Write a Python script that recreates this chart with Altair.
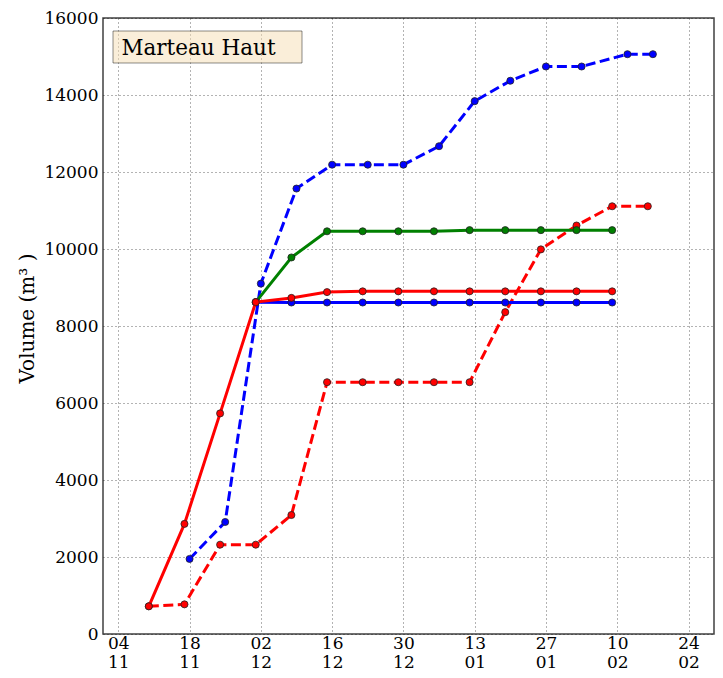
import altair as alt
import pandas as pd

SITE_LABEL = "Marteau Haut"
Y_TITLE = "Volume (m³ )"

# Weekly surveys (solid series) and the two dashed series
red_solid_dates = ["2011-11-10", "2011-11-17", "2011-11-24", "2011-12-01", "2011-12-08",
                   "2011-12-15", "2011-12-22", "2011-12-29", "2012-01-05", "2012-01-12",
                   "2012-01-19", "2012-01-26", "2012-02-02", "2012-02-09"]
red_solid_values = [720, 2860, 5730, 8620, 8730, 8880, 8900, 8900, 8900, 8900,
                    8900, 8900, 8900, 8900]

blue_solid_dates = ["2011-12-01", "2011-12-08", "2011-12-15", "2011-12-22", "2011-12-29",
                    "2012-01-05", "2012-01-12", "2012-01-19", "2012-01-26", "2012-02-02",
                    "2012-02-09"]
blue_solid_values = [8620, 8610, 8610, 8610, 8610, 8610, 8610, 8610, 8610, 8610, 8610]

green_dates = ["2011-12-01", "2011-12-08", "2011-12-15", "2011-12-22", "2011-12-29",
               "2012-01-05", "2012-01-12", "2012-01-19", "2012-01-26", "2012-02-02",
               "2012-02-09"]
green_values = [8620, 9780, 10460, 10460, 10460, 10460, 10490, 10490, 10490, 10490, 10490]

blue_dashed_dates = ["2011-11-18", "2011-11-25", "2011-12-02", "2011-12-09", "2011-12-16",
                     "2011-12-23", "2011-12-30", "2012-01-06", "2012-01-13", "2012-01-20",
                     "2012-01-27", "2012-02-03", "2012-02-12", "2012-02-17"]
blue_dashed_values = [1950, 2910, 9100, 11570, 12190, 12190, 12190, 12670, 13840, 14370,
                      14740, 14740, 15060, 15060]

red_dashed_dates = ["2011-11-10", "2011-11-17", "2011-11-24", "2011-12-01", "2011-12-08",
                    "2011-12-15", "2011-12-22", "2011-12-29", "2012-01-05", "2012-01-12",
                    "2012-01-19", "2012-01-26", "2012-02-02", "2012-02-09", "2012-02-16"]
red_dashed_values = [720, 770, 2320, 2320, 3090, 6540, 6540, 6540, 6540, 6540,
                     8360, 9990, 10610, 11110, 11110]

x_tick_dates = [(2011, 11, 4), (2011, 11, 18), (2011, 12, 2), (2011, 12, 16), (2011, 12, 30),
                (2012, 1, 13), (2012, 1, 27), (2012, 2, 10), (2012, 2, 24)]
y_ticks = [0, 2000, 4000, 6000, 8000, 10000, 12000, 14000, 16000]

FONT = "DejaVu Serif"


def dt(y, m, d):
    return alt.DateTime(year=y, month=m, date=d, utc=True)


x_enc = alt.X(
    "date:T",
    scale=alt.Scale(type="utc", domain=[dt(2011, 11, 1), dt(2012, 2, 29)]),
    axis=alt.Axis(
        values=[dt(*t) for t in x_tick_dates],
        labelExpr="[utcFormat(datum.value, '%d'), utcFormat(datum.value, '%m')]",
        title=None, grid=True, ticks=False, domain=False,
        labelFont=FONT, labelFontSize=17, labelLineHeight=19, labelPadding=1,
        labelColor="black", labelAngle=0, labelOverlap=False, labelFlush=False,
    ),
)
y_enc = alt.Y(
    "value:Q",
    scale=alt.Scale(domain=[0, 16000], nice=False),
    axis=alt.Axis(
        values=y_ticks, format="d", grid=True, ticks=False, domain=False,
        labelFont=FONT, labelFontSize=17, labelPadding=5, labelColor="black",
        title=Y_TITLE, titleFont=FONT, titleFontSize=20, titleFontWeight="normal",
        titleColor="black", titleX=-70, titleY=300, titleAngle=270,
        titleAlign="center", titleBaseline="alphabetic",
    ),
)

series = [
    (blue_dashed_dates, blue_dashed_values, "#0000ff", True),
    (red_dashed_dates, red_dashed_values, "#ff0000", True),
    (green_dates, green_values, "#008000", False),
    (blue_solid_dates, blue_solid_values, "#0000ff", False),
    (red_solid_dates, red_solid_values, "#ff0000", False),
]

layers = []
for dates, values, color, dashed in series:
    df = pd.DataFrame({"date": dates, "value": values})
    base = alt.Chart(df).encode(x=x_enc, y=y_enc)
    line_kw = dict(color=color, strokeWidth=3)
    if dashed:
        line_kw["strokeDash"] = [10, 4.5]
        line_kw["strokeCap"] = "butt"
    layers.append(base.mark_line(**line_kw))
    layers.append(base.mark_circle(size=50, color=color, opacity=1,
                                   stroke="#222222", strokeWidth=0.8))

label_df = pd.DataFrame({"label": [SITE_LABEL]})
box = alt.Chart(label_df).mark_rect(
    fill="#f5deb3", fillOpacity=0.5, stroke="black", strokeOpacity=0.45, strokeWidth=1
).encode(x=alt.value(10), x2=alt.value(199), y=alt.value(13), y2=alt.value(45))
txt = alt.Chart(label_df).mark_text(
    align="left", baseline="alphabetic", font=FONT, fontSize=21.5, color="black"
).encode(x=alt.value(18.5), y=alt.value(37), text="label:N")

chart = alt.layer(*layers, box, txt).properties(
    width=611, height=616,
    autosize=alt.AutoSizeParams(type="none"),
    padding={"left": 95, "top": 10, "right": 1, "bottom": 36},
).configure_view(
    stroke="#404040", strokeWidth=1.5
).configure_axis(
    gridColor="black", gridDash=[1, 3], gridOpacity=0.75, gridWidth=0.8
)

chart.save("out.html", embed_options={"renderer": "svg", "actions": False})
